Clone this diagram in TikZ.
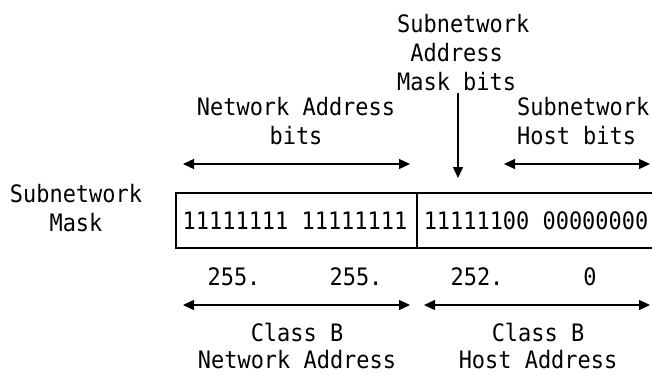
\documentclass[tikz,border=0pt]{standalone}
\usepackage{fontspec}
\newfontfamily\maskfont[FakeStretch = 0.914]{DejaVu Sans Mono}
\usetikzlibrary{arrows.meta, positioning}

\begin{document}
\begin{tikzpicture}[
        x = 1pt, y = -1pt,
        >= {Triangle[length = 11pt, width = 10pt]},
        every node/.style = {font = \maskfont\fontsize{24}{29}\selectfont, inner sep = 0pt},
        label/.style = {anchor = north, align = center},
        bits/.style = {anchor = base},
        span/.style = {<->, line width = 1.3pt},
        field/.style = {draw, line width = 1.2pt}
    ]

    \useasboundingbox (0,0) rectangle (652,373);

    % labels above the mask
    \node[label, anchor = north west, align = left] (maskbits) at (397,13.8)
        {Subnetwork\\\hphantom{S}Address\\Mask bits};
    \node[label] (netbits)  at (296,96.8) {Network Address\\bits};
    \node[label, anchor = north west, align = left] (hostbits) at (517,96.8) {Subnetwork\\Host bits};
    \node[label] (mask)     at (76,183.8) {Subnetwork\\Mask};

    % the mask itself
    \coordinate (boxnw)  at (176,193);
    \coordinate (boxse)  at (680,248);
    \coordinate (divtop) at (417,193);
    \coordinate (divbot) at (417,248);
    \draw[field] (boxnw) rectangle (boxse);
    \draw[field] (divtop) -- (divbot);

    \node[bits] (netpart)  at (295,229) {11111111 11111111};
    \node[bits] (hostpart) at (536,229) {11111100 00000000};

    % dotted decimal
    \node[bits] (octa) at (234,285) {255.};
    \node[bits] (octb) at (356,285) {255.};
    \node[bits] (octc) at (477,285) {252.};
    \node[bits] (octd) at (590,285) {0};

    % labels below
    \node[label, font = \maskfont\fontsize{24}{27}\selectfont] (classnet)  at (297,322.8) {Class B\\Network Address};
    \node[label, font = \maskfont\fontsize{24}{27}\selectfont] (classhost) at (538,322.8) {Class B\\Host Address};

    % arrows
    \coordinate (netl)   at (183,164);
    \coordinate (netr)   at (410,164);
    \coordinate (hostl)  at (504,164);
    \coordinate (hostr)  at (650,164);
    \coordinate (downa)  at (458,93);
    \coordinate (downb)  at (458,178);
    \coordinate (cnetl)  at (183,305);
    \coordinate (cnetr)  at (410,305);
    \coordinate (chostl) at (424,305);
    \coordinate (chostr) at (650,305);

    \draw[span] (netl) -- (netr);
    \draw[span] (hostl) -- (hostr);
    \draw[->, line width = 1.3pt] (downa) -- (downb);
    \draw[span] (cnetl) -- (cnetr);
    \draw[span] (chostl) -- (chostr);

\end{tikzpicture}
\end{document}
